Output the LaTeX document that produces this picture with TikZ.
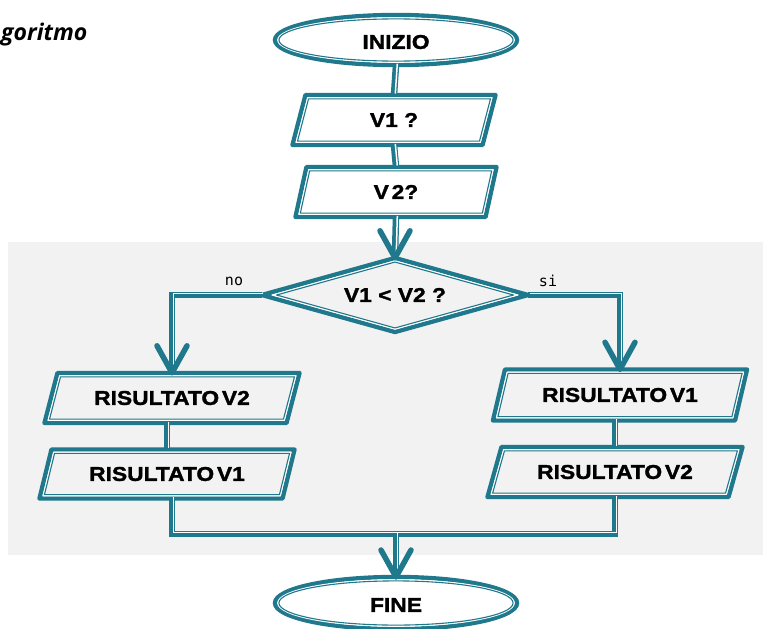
\documentclass[tikz,border=0pt]{standalone}
\usepackage{fontspec}
\setmainfont{Liberation Sans}
\newfontfamily\boxfont[FakeStretch=1.14, BoldFeatures={FakeBold=1.6}]{Liberation Sans}
\newfontfamily\titlefont{Open Sans}
\newfontfamily\branchfont{DejaVu Sans Mono}
\newcommand\tightspace{\spaceskip=0.14em\relax}
\usetikzlibrary{calc}
\definecolor{flow}{RGB}{31,120,140}
\definecolor{panel}{RGB}{242,242,242}
\tikzset{
  lbl/.style={inner sep=0pt, font=\boxfont\bfseries\fontsize{20}{20}\selectfont},
  tight/.style={execute at begin node=\tightspace},
  conn/.style={draw=flow, line width=6.5pt, postaction={draw=white, line width=1.5pt, transform canvas={shift={(1.3pt,1.3pt)}}}},
  barb/.style={draw=flow, line width=5.5pt, line cap=round, line join=round},
  branch/.style={inner sep=0pt, font=\branchfont\fontsize{15}{15}\selectfont},
}
% parallelogram outline: cx cy width height slant
\newcommand\drawpara[5]{%
  \pgfmathsetmacro\pk{sqrt(1+(#5/#4)^2)}%
  \foreach \ins/\lw/\col in {0/4.4/flow,2.8/1.2/white,3.9/1.1/flow}{%
    \pgfmathsetmacro\pw{#3-2*\ins*\pk}%
    \pgfmathsetmacro\ph{#4-2*\ins}%
    \pgfmathsetmacro\ps{#5*\ph/#4}%
    \draw[draw=\col, line width=\lw pt, line join=round]
      ({#1-\pw/2+\ps/2},{#2-\ph/2}) -- ({#1+\pw/2+\ps/2},{#2-\ph/2})
      -- ({#1+\pw/2-\ps/2},{#2+\ph/2}) -- ({#1-\pw/2-\ps/2},{#2+\ph/2}) -- cycle;
  }}
% oval outline: cx cy rx ry
\newcommand\drawoval[4]{%
  \foreach \ins/\lw/\col in {0/4.4/flow,2.8/1.2/white,3.9/1.1/flow}{%
    \pgfmathsetmacro\orx{#3-\ins}%
    \pgfmathsetmacro\ory{#4-\ins}%
    \draw[draw=\col, line width=\lw pt] (#1,#2) ellipse [x radius=\orx pt, y radius=\ory pt];
  }}
% rhombus outline: cx cy halfwidth halfheight
\newcommand\drawrhombus[4]{%
  \pgfmathsetmacro\dl{veclen(#3,#4)}%
  \foreach \ins/\lw/\col in {0/4.4/flow,2.8/1.2/white,3.9/1.1/flow}{%
    \pgfmathsetmacro\da{#3-\ins*\dl/#4}%
    \pgfmathsetmacro\db{#4-\ins*\dl/#3}%
    \draw[draw=\col, line width=\lw pt, line join=round]
      ({#1-\da},#2) -- (#1,{#2-\db}) -- ({#1+\da},#2) -- (#1,{#2+\db}) -- cycle;
  }}
\begin{document}
\begin{tikzpicture}[x=1pt,y=-1pt]
\fill[white] (0,0) rectangle (763,629);
\useasboundingbox (0,0) rectangle (763,629);
\fill[panel] (8,242) rectangle (763,555);

\node[anchor=base west, inner sep=0pt, font=\titlefont\bfseries\itshape\fontsize{23}{23}\selectfont] (title) at (1,40) {goritmo};

% text nodes
\node[lbl, minimum width=242, minimum height=50] (inizio) at (396,42) {INIZIO};
\node[lbl, minimum width=190, minimum height=50] (v1) at (394,120) {V1 ?};
\node[lbl, tight, minimum width=190, minimum height=50] (v2) at (396,192) {V 2?};
\node[lbl, minimum width=266, minimum height=74] (dec) at (395,295) {V1 < V2 ?};
\node[lbl, tight, minimum width=242, minimum height=50] (lv2) at (172,398) {RISULTATO V2};
\node[lbl, tight, minimum width=243, minimum height=49] (lv1) at (167,474) {RISULTATO V1};
\node[lbl, tight, minimum width=242, minimum height=51] (rv1) at (620,395) {RISULTATO V1};
\node[lbl, tight, minimum width=241, minimum height=50] (rv2) at (615,472) {RISULTATO V2};
\node[lbl, minimum width=242, minimum height=52] (fine) at (396,605) {FINE};
\node[branch] (no) at (234,281) {no};
\node[branch] (si) at (548,281) {si};

% outlines
\drawoval{396}{40}{121}{25}
\drawpara{394}{120}{190}{50}{13}
\drawpara{396}{192}{190}{50}{11}
\drawrhombus{395}{295}{133}{37}
\drawpara{172}{398}{242}{50}{13}
\drawpara{167}{474}{243}{49}{12}
\drawpara{620}{395}{242}{51}{12}
\drawpara{615}{472}{241}{50}{14}
\drawoval{396}{603}{121}{26}

% connectors
\coordinate (m) at (396,534);
\coordinate (ini) at (396,65);
\coordinate (fin) at (396,577);
\draw[conn] (ini) -- (v1.north);
\draw[conn] (v1.south) -- (v2.north);
\draw[conn] (v2.south) -- ($(dec.north)+(0,-4)$);
\draw[barb] ($(dec.north)+(-15,-27)$) -- (dec.north) -- ($(dec.north)+(15,-27)$);
\draw[conn] (dec.west) -| ($(lv2.north)+(0,-4)$);
\draw[barb] ($(lv2.north)+(-15,-27)$) -- (lv2.north) -- ($(lv2.north)+(15,-27)$);
\draw[conn] (dec.east) -| ($(rv1.north)+(0,-4)$);
\draw[barb] ($(rv1.north)+(-15,-27)$) -- (rv1.north) -- ($(rv1.north)+(15,-27)$);
\draw[conn] (lv1.north |- lv2.south) -- (lv1.north);
\draw[conn] (rv2.north |- rv1.south) -- (rv2.north);
\draw[conn] (lv2.south |- lv1.south) |- (m) -| (rv2.south);
\draw[conn] (m) -- ($(fin)+(0,-4)$);
\draw[barb] ($(fin)+(-15,-27)$) -- (fin) -- ($(fin)+(15,-27)$);
\end{tikzpicture}
\end{document}
